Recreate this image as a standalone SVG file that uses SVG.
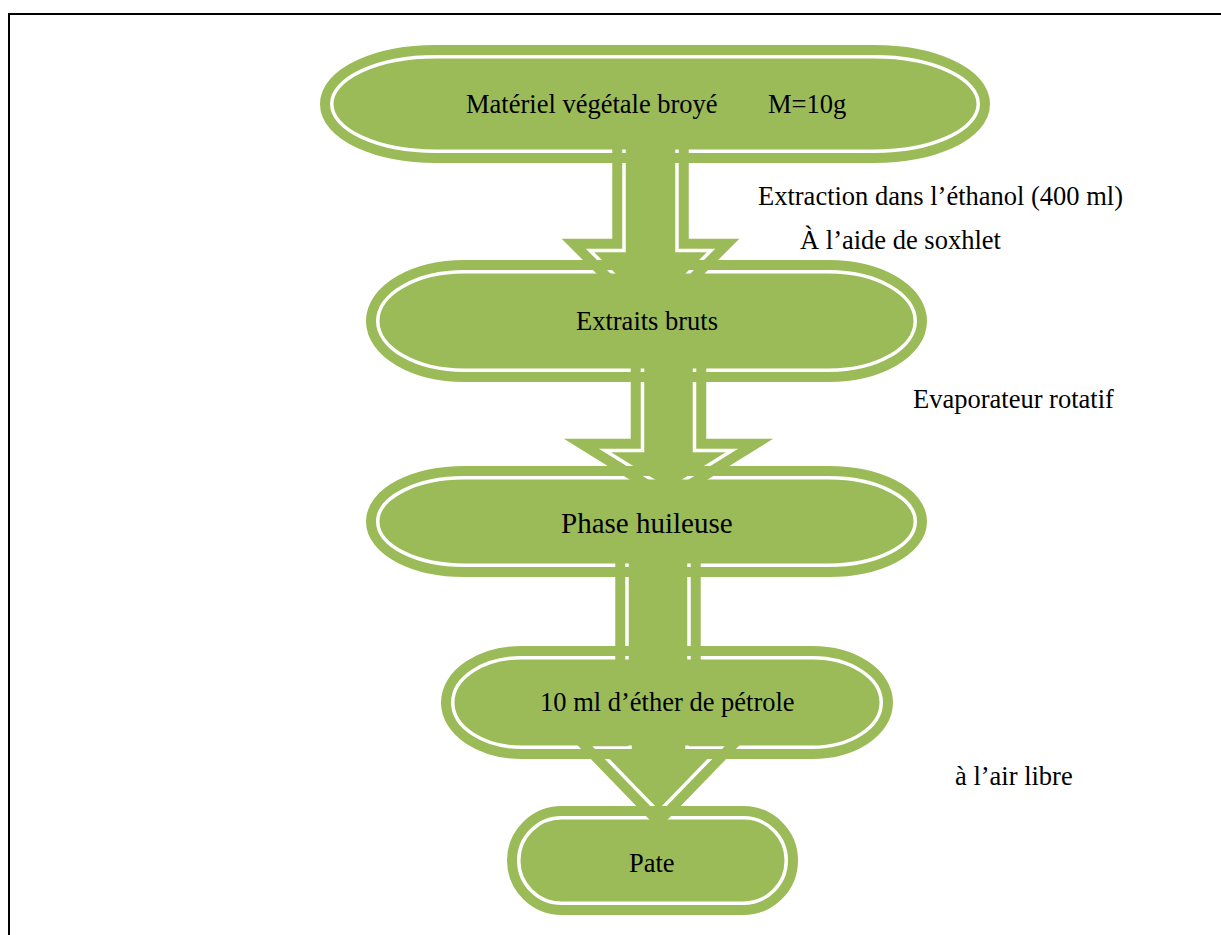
<svg xmlns="http://www.w3.org/2000/svg" xmlns:xlink="http://www.w3.org/1999/xlink" width="1221" height="935" viewBox="0 0 1221 935">
<style>
.nd{fill:#9BBB59;stroke:#9BBB59;stroke-width:23.5}
.gap{fill:none;stroke:#FFFFFF;stroke-width:3.5}
.ar{fill:#9BBB59;stroke:#9BBB59;stroke-width:23.5;stroke-linejoin:miter;stroke-miterlimit:10}
.mk{fill:none;stroke:#000;stroke-width:3.5;stroke-linejoin:miter;stroke-miterlimit:10}
.t{font-family:"Liberation Serif","Times New Roman",serif;font-size:26.5px;fill:#000}
</style>
<defs>
<path id="p1" d="M624,130 H677 V250.5 H711 L669.5,292 H631.5 L590,250.5 H624 Z"/>
<path id="p2" d="M642.5,345 H694.5 V450.5 H732 L668.5,490 L605,450.5 H642.5 Z"/>
<path id="p3" d="M627,548 H689 V672 H627 Z"/>
<path id="p4" d="M630,725 H687 V748 H720.5 L658.5,812 L596.5,748 H630 Z"/>
<mask id="m1" maskUnits="userSpaceOnUse" x="0" y="0" width="1221" height="935"><rect width="1221" height="935" fill="#fff"/><use href="#p1" class="mk"/></mask>
<mask id="m2" maskUnits="userSpaceOnUse" x="0" y="0" width="1221" height="935"><rect width="1221" height="935" fill="#fff"/><use href="#p2" class="mk"/></mask>
<mask id="m3" maskUnits="userSpaceOnUse" x="0" y="0" width="1221" height="935"><rect width="1221" height="935" fill="#fff"/><use href="#p3" class="mk"/></mask>
<mask id="m4" maskUnits="userSpaceOnUse" x="0" y="0" width="1221" height="935"><rect width="1221" height="935" fill="#fff"/><use href="#p4" class="mk"/></mask>
</defs>
<rect width="1221" height="935" fill="#FFFFFF"/>
<path id="frame" d="M9,935 V14 H1221" fill="none" stroke="#000" stroke-width="2"/>

<g id="node1">
<rect class="nd" x="331.75" y="56.75" width="646.5" height="94.5" rx="104" ry="47.25"/>
<rect class="gap" x="331.75" y="56.75" width="646.5" height="94.5" rx="104" ry="47.25"/>
<text class="t" y="113"><tspan x="466">Matériel végétale broyé</tspan><tspan x="768">M=10g</tspan></text>
</g>
<g id="node2">
<rect class="nd" x="377.75" y="271.75" width="537.5" height="98.5" rx="86.5" ry="49.25"/>
<rect class="gap" x="377.75" y="271.75" width="537.5" height="98.5" rx="86.5" ry="49.25"/>
<text class="t" x="576" y="330">Extraits bruts</text>
</g>
<g id="node3">
<rect class="nd" x="377.75" y="477.75" width="537.5" height="87.5" rx="86.5" ry="43.75"/>
<rect class="gap" x="377.75" y="477.75" width="537.5" height="87.5" rx="86.5" ry="43.75"/>
<text class="t" x="561" y="533" style="font-size:29px">Phase huileuse</text>
</g>
<g id="node4">
<rect class="nd" x="452.75" y="657.75" width="428.5" height="89.5" rx="69" ry="44.75"/>
<rect class="gap" x="452.75" y="657.75" width="428.5" height="89.5" rx="69" ry="44.75"/>
<text class="t" x="540" y="711">10 ml d’éther de pétrole</text>
</g>
<g id="node5">
<rect class="nd" x="518.75" y="817.75" width="267.5" height="85.5" rx="43" ry="42.75"/>
<rect class="gap" x="518.75" y="817.75" width="267.5" height="85.5" rx="43" ry="42.75"/>
<text class="t" x="629" y="872">Pate</text>
</g>

<g id="connectors">
<use href="#p1" class="ar" mask="url(#m1)"/>
<use href="#p2" class="ar" mask="url(#m2)"/>
<use href="#p3" class="ar" mask="url(#m3)"/>
<use href="#p4" class="ar" mask="url(#m4)"/>
</g>

<g id="labels">
<text class="t" x="758" y="205">Extraction dans l’éthanol (400 ml)</text>
<text class="t" x="800" y="249">À l’aide de soxhlet</text>
<text class="t" x="913" y="408">Evaporateur rotatif</text>
<text class="t" x="955" y="785">à l’air libre</text>
</g>
</svg>
